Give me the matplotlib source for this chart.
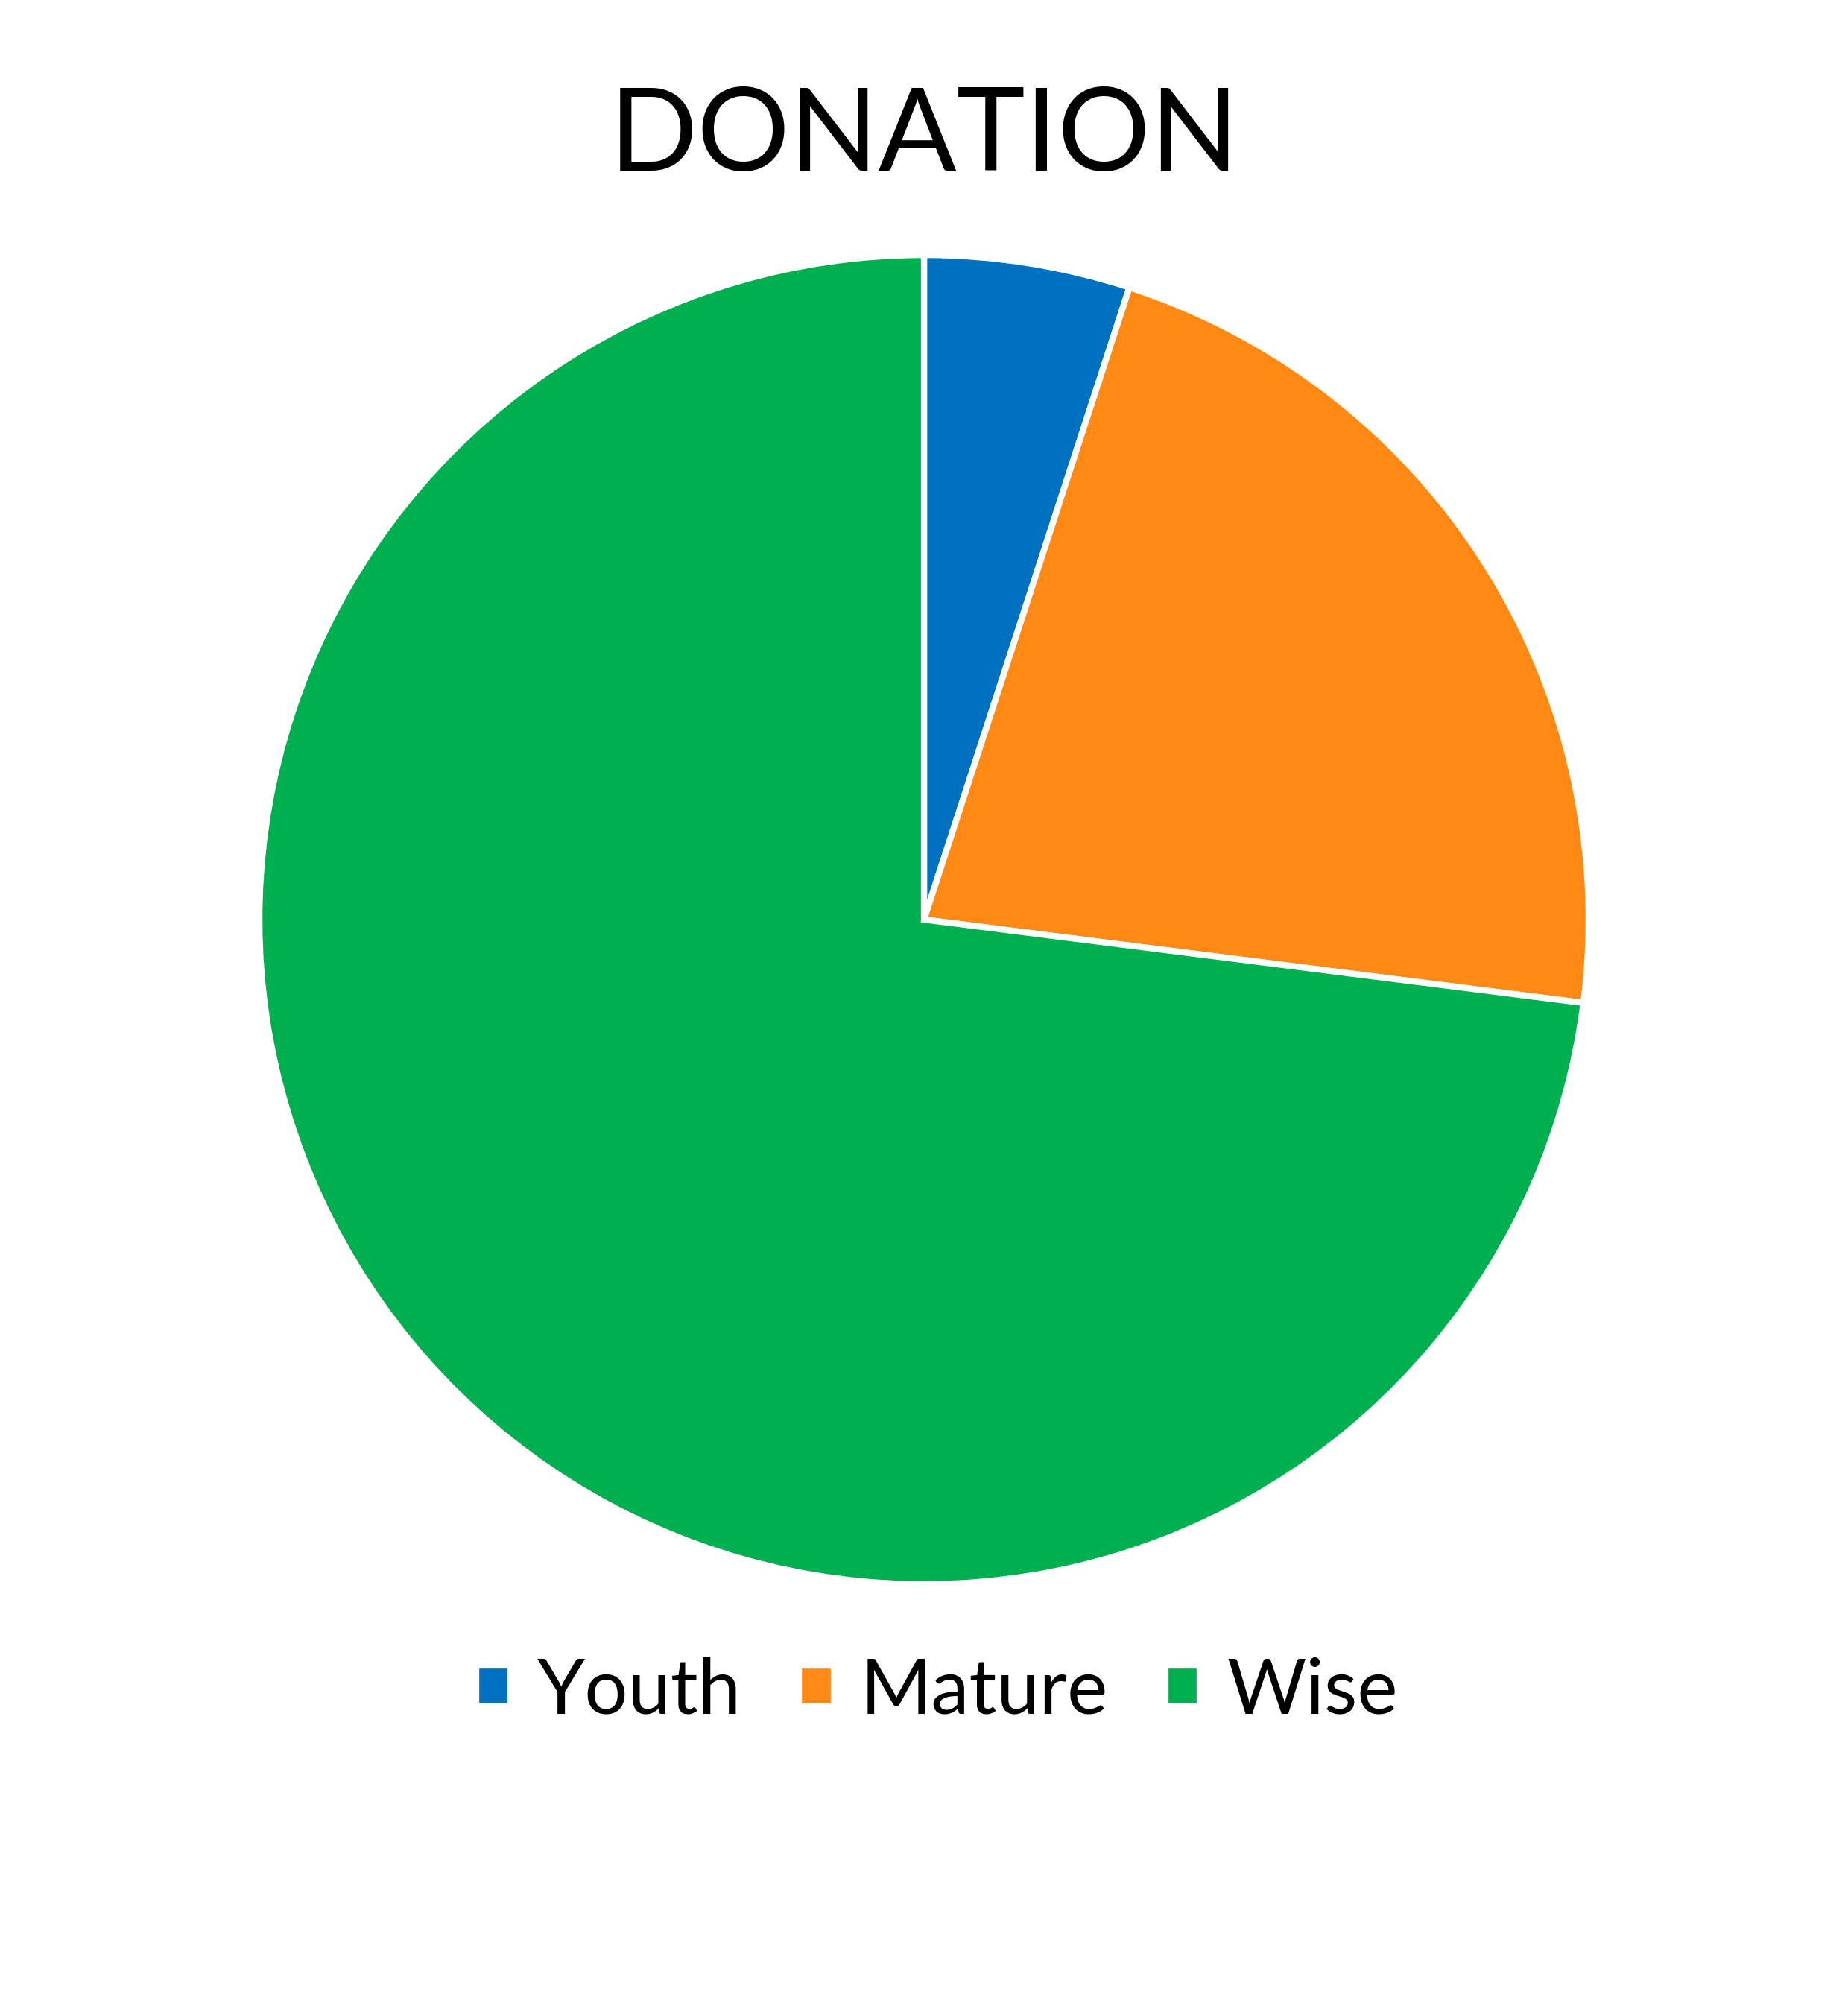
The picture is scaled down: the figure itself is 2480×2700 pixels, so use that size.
import matplotlib.pyplot as plt

# Datos del gráfico
labels = ['Youth', 'Mature', 'Wise']
values = [5, 22, 73]
colors = ['#0070C0', '#FF8914', '#00B050']

plt.rcParams['font.family'] = ['Lato', 'DejaVu Sans']

fig = plt.figure(figsize=(12.4, 13.5), dpi=200)
fig.patch.set_facecolor('white')

# ejes cuadrados para el pastel
ax = fig.add_axes([0.1403, 0.2126, 0.7194, 0.6607])
wedges, _ = ax.pie(values, colors=colors, startangle=90, counterclock=False,
                   radius=1, wedgeprops=dict(edgecolor='white', linewidth=3))
for w in wedges:
    w.set_clip_on(False)
ax.set_xlim(-1, 1)
ax.set_ylim(-1, 1)
ax.set_aspect('equal')

fig.text(0.5, 1 - 229 / 2700, 'DONATION', ha='center', va='baseline',
         fontsize=56, color='black')

fig.legend(wedges, labels, loc='center', bbox_to_anchor=(0.507, 1 - 2270 / 2700),
           ncol=3, frameon=False, fontsize=37, handlelength=0.45, handleheight=0.45,
           handletextpad=0.35, columnspacing=0.75)

fig.savefig('out.png', dpi=200, facecolor='white')
